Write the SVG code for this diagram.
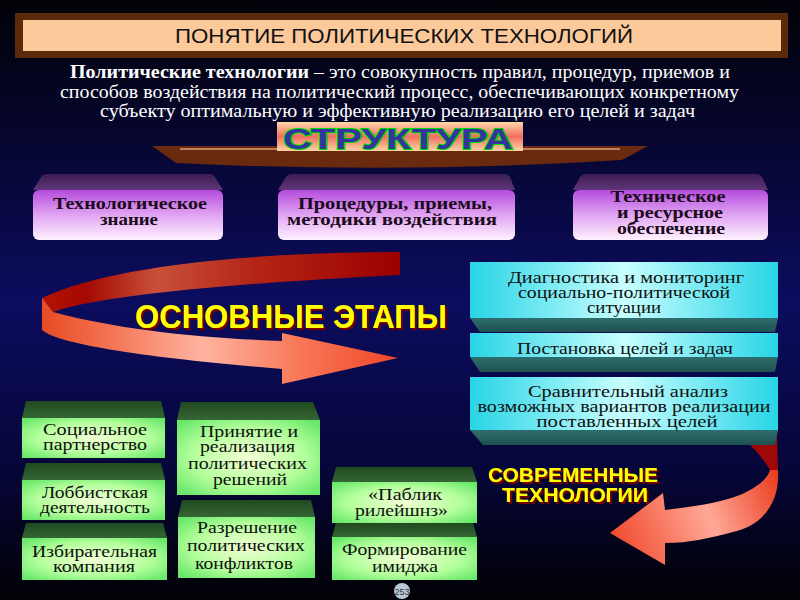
<svg xmlns="http://www.w3.org/2000/svg" width="800" height="600" viewBox="0 0 800 600">
<defs>
  <linearGradient id="bg" x1="0" y1="0" x2="0" y2="1">
    <stop offset="0" stop-color="#020208"/>
    <stop offset="0.22" stop-color="#06062e"/>
    <stop offset="0.5" stop-color="#0c0c5e"/>
    <stop offset="0.78" stop-color="#06063a"/>
    <stop offset="1" stop-color="#010104"/>
  </linearGradient>
  <linearGradient id="strG" x1="0" y1="0" x2="0" y2="1">
    <stop offset="0" stop-color="#ffd8a8"/>
    <stop offset="0.5" stop-color="#f07060"/>
    <stop offset="1" stop-color="#ffd4a4"/>
  </linearGradient>
  <linearGradient id="pTop" x1="0" y1="0" x2="0" y2="1">
    <stop offset="0" stop-color="#3c1e50"/>
    <stop offset="1" stop-color="#60357a"/>
  </linearGradient>
  <linearGradient id="pFront" x1="0" y1="0" x2="0" y2="1">
    <stop offset="0" stop-color="#b44cdc"/>
    <stop offset="0.5" stop-color="#e0a4f2"/>
    <stop offset="1" stop-color="#fff2ff"/>
  </linearGradient>
  <linearGradient id="cFront" x1="0" y1="0" x2="1" y2="0">
    <stop offset="0" stop-color="#28d4e6"/>
    <stop offset="0.5" stop-color="#c8ffff"/>
    <stop offset="1" stop-color="#28d4e6"/>
  </linearGradient>
  <linearGradient id="cBot" x1="0" y1="0" x2="0" y2="1">
    <stop offset="0" stop-color="#2f6e6e"/>
    <stop offset="1" stop-color="#1f5050"/>
  </linearGradient>
  <radialGradient id="gFront" cx="0.5" cy="0.5" r="0.65">
    <stop offset="0" stop-color="#f2ffd4"/>
    <stop offset="0.6" stop-color="#b4ff9c"/>
    <stop offset="1" stop-color="#6ae86a"/>
  </radialGradient>
  <linearGradient id="gTop" x1="0" y1="0" x2="0" y2="1">
    <stop offset="0" stop-color="#1f4a1f"/>
    <stop offset="1" stop-color="#356535"/>
  </linearGradient>
  <linearGradient id="back1" gradientUnits="userSpaceOnUse" x1="400" y1="0" x2="42" y2="0">
    <stop offset="0" stop-color="#9a0000"/>
    <stop offset="0.4" stop-color="#b42414"/>
    <stop offset="0.68" stop-color="#c85038"/>
    <stop offset="0.88" stop-color="#a40800"/>
    <stop offset="1" stop-color="#b41406"/>
  </linearGradient>
  <linearGradient id="front1" gradientUnits="userSpaceOnUse" x1="40" y1="0" x2="400" y2="0">
    <stop offset="0" stop-color="#e84a22"/>
    <stop offset="0.18" stop-color="#f27050"/>
    <stop offset="0.45" stop-color="#ffb4a0"/>
    <stop offset="0.72" stop-color="#f87858"/>
    <stop offset="1" stop-color="#ee4626"/>
  </linearGradient>
  <linearGradient id="front2" gradientUnits="userSpaceOnUse" x1="780" y1="470" x2="610" y2="540">
    <stop offset="0" stop-color="#e83818"/>
    <stop offset="0.45" stop-color="#ffa898"/>
    <stop offset="1" stop-color="#f04828"/>
  </linearGradient>
  <filter id="sh" x="-5%" y="-10%" width="115%" height="140%">
    <feOffset in="SourceAlpha" dx="2" dy="2" result="o"/>
    <feFlood flood-color="#7a0000"/>
    <feComposite in2="o" operator="in" result="s"/>
    <feMerge><feMergeNode in="s"/><feMergeNode in="SourceGraphic"/></feMerge>
  </filter>
  <filter id="sh2" x="-5%" y="-10%" width="115%" height="140%">
    <feOffset in="SourceAlpha" dx="1.5" dy="1.5" result="o"/>
    <feFlood flood-color="#7a0000"/>
    <feComposite in2="o" operator="in" result="s"/>
    <feMerge><feMergeNode in="s"/><feMergeNode in="SourceGraphic"/></feMerge>
  </filter>
  <style>
    .ptop{fill:url(#pTop)}
    .pfront{fill:url(#pFront)}
    .pt{font-family:"Liberation Serif",serif;font-weight:bold;font-size:17px;fill:#1a0a1a;text-anchor:middle}
    .cfront{fill:url(#cFront)}
    .cbot{fill:url(#cBot)}
    .ct{font-family:"Liberation Serif",serif;font-size:16px;fill:#101010;text-anchor:middle}
    .gtop{fill:url(#gTop)}
    .gfront{fill:url(#gFront)}
    .gt{font-family:"Liberation Serif",serif;font-size:16.5px;fill:#101010;text-anchor:middle}
    .para{font-family:"Liberation Serif",serif;font-size:18px;fill:#ffffff}
    .yel{font-family:"Liberation Sans",sans-serif;font-weight:bold;fill:#ffff00}
  </style>
</defs>

<rect x="0" y="0" width="800" height="600" fill="url(#bg)"/>

<g id="title">
  <rect x="15" y="13" width="773" height="45" fill="#5a2a0a"/>
  <rect x="23" y="20" width="758" height="31" fill="#fcc99b"/>
  <text x="404" y="43" font-family="Liberation Sans, sans-serif" font-size="21" fill="#111" text-anchor="middle" textLength="458" lengthAdjust="spacingAndGlyphs">ПОНЯТИЕ ПОЛИТИЧЕСКИХ ТЕХНОЛОГИЙ</text>
</g>

<g id="definition">
  <text class="para" x="70" y="78" font-weight="bold" textLength="239" lengthAdjust="spacingAndGlyphs">Политические технологии</text>
  <text class="para" x="314" y="78" textLength="416" lengthAdjust="spacingAndGlyphs">– это совокупность правил, процедур, приемов и</text>
  <text class="para" x="60" y="98" textLength="679" lengthAdjust="spacingAndGlyphs">способов воздействия на политический процесс, обеспечивающих конкретному</text>
  <text class="para" x="100" y="117" textLength="595" lengthAdjust="spacingAndGlyphs">субъекту оптимальную и эффективную реализацию его целей и задач</text>
</g>

<g id="structure">
  <path d="M152,146 L648,146 L622,160 Q400,174 176,163 Z" fill="#6a2a10"/>
  <path d="M180,149 L620,149" stroke="#d8a070" stroke-width="1.5"/>
  <rect x="277" y="122" width="246" height="29" fill="url(#strG)"/>
  <text x="398" y="149" font-family="Liberation Sans, sans-serif" font-weight="bold" font-size="29" fill="#34349e" stroke="#00dd00" stroke-width="2" paint-order="stroke" text-anchor="middle" textLength="230" lengthAdjust="spacingAndGlyphs">СТРУКТУРА</text>
</g>

<g id="n-tech-knowledge">
  <path class="ptop" d="M33,190 L41,177 Q43,174 47,174 L209,174 Q213,174 215,177 L223,190 Z"/>
  <rect class="pfront" x="33" y="190" width="190" height="50" rx="6"/>
  <text class="pt"><tspan x="130" y="209" textLength="154" lengthAdjust="spacingAndGlyphs">Технологическое</tspan><tspan x="129" y="225" textLength="58" lengthAdjust="spacingAndGlyphs">знание</tspan></text>
</g>
<g id="n-procedures">
  <path class="ptop" d="M278,190 L286,177 Q288,174 292,174 L504,174 Q508,174 510,177 L515,190 Z"/>
  <rect class="pfront" x="278" y="190" width="237" height="50" rx="6"/>
  <text class="pt"><tspan x="395" y="209" textLength="194" lengthAdjust="spacingAndGlyphs">Процедуры, приемы,</tspan><tspan x="392" y="225" textLength="210" lengthAdjust="spacingAndGlyphs">методики воздействия</tspan></text>
</g>
<g id="n-technical">
  <path class="ptop" d="M573,190 L580,177 Q582,174 586,174 L756,174 Q760,174 762,177 L768,190 Z"/>
  <rect class="pfront" x="573" y="190" width="195" height="50" rx="6"/>
  <text class="pt"><tspan x="668" y="202" textLength="115" lengthAdjust="spacingAndGlyphs">Техническое</tspan><tspan x="670" y="218" textLength="106" lengthAdjust="spacingAndGlyphs">и ресурсное</tspan><tspan x="671" y="234" textLength="108" lengthAdjust="spacingAndGlyphs">обеспечение</tspan></text>
</g>

<g id="connectors">
  <path d="M400,252 C260,252 110,265 42,298 L53,312 C100,296 220,284 400,275 Z" fill="url(#back1)"/>
  <path d="M42,298 L42,330 C60,345 150,358 282,369 L282,384 L398,358 L282,333 L282,341 C200,338 120,330 53,312 Z" fill="url(#front1)"/>
  <path d="M745,440 L777,436 L778,470 L770,470 C764,460 756,450 745,440 Z" fill="#a00808"/>
  <path d="M770,470 L778,470 C780,500 765,525 733,532 C710,538 690,543 665,543 L665,565 L610,533 L663,493 L665,510 C690,507 720,503 740,495 C758,487 768,478 770,470 Z" fill="url(#front2)"/>
</g>

<g id="label-stages">
  <text class="yel" x="135" y="328" font-size="34" filter="url(#sh)" textLength="312" lengthAdjust="spacingAndGlyphs">ОСНОВНЫЕ ЭТАПЫ</text>
</g>

<g id="n-diagnostics">
  <rect class="cfront" x="470" y="262" width="308" height="56"/>
  <path class="cbot" d="M470,318 L778,318 L775,332 L480,332 Z"/>
  <text class="ct"><tspan x="626" y="283" textLength="236" lengthAdjust="spacingAndGlyphs">Диагностика и мониторинг</tspan><tspan x="624" y="298" textLength="212" lengthAdjust="spacingAndGlyphs">социально-политической</tspan><tspan x="624" y="313" textLength="74" lengthAdjust="spacingAndGlyphs">ситуации</tspan></text>
</g>
<g id="n-goals">
  <rect class="cfront" x="470" y="333" width="308" height="24"/>
  <path class="cbot" d="M470,357 L778,357 L775,372 L480,372 Z"/>
  <text class="ct" x="625" y="354" textLength="216" lengthAdjust="spacingAndGlyphs">Постановка целей и задач</text>
</g>
<g id="n-analysis">
  <rect class="cfront" x="470" y="377" width="308" height="53"/>
  <path class="cbot" d="M470,430 L778,430 L775,445 L483,445 Z"/>
  <text class="ct"><tspan x="628" y="397" textLength="200" lengthAdjust="spacingAndGlyphs">Сравнительный анализ</tspan><tspan x="624" y="412" textLength="293" lengthAdjust="spacingAndGlyphs">возможных вариантов реализации</tspan><tspan x="627" y="427" textLength="181" lengthAdjust="spacingAndGlyphs">поставленных целей</tspan></text>
</g>

<g id="label-modern">
  <text class="yel" font-size="21" filter="url(#sh2)"><tspan x="488" y="482" textLength="170" lengthAdjust="spacingAndGlyphs">СОВРЕМЕННЫЕ</tspan><tspan x="502" y="502" textLength="146" lengthAdjust="spacingAndGlyphs">ТЕХНОЛОГИИ</tspan></text>
</g>

<g id="n-social-partnership">
  <path class="gtop" d="M26,401 L161,401 L165,418 L22,418 Z"/>
  <rect class="gfront" x="22" y="418" width="143" height="40"/>
  <text class="gt"><tspan x="95" y="435" textLength="104" lengthAdjust="spacingAndGlyphs">Социальное</tspan><tspan x="95" y="450" textLength="104" lengthAdjust="spacingAndGlyphs">партнерство</tspan></text>
</g>
<g id="n-lobbying">
  <path class="gtop" d="M26,463 L161,463 L165,480 L22,480 Z"/>
  <rect class="gfront" x="22" y="480" width="143" height="40"/>
  <text class="gt"><tspan x="95" y="498" textLength="106" lengthAdjust="spacingAndGlyphs">Лоббистская</tspan><tspan x="95" y="513" textLength="110" lengthAdjust="spacingAndGlyphs">деятельность</tspan></text>
</g>
<g id="n-election">
  <path class="gtop" d="M26,523 L163,523 L167,538 L22,538 Z"/>
  <rect class="gfront" x="22" y="538" width="145" height="42"/>
  <text class="gt"><tspan x="94.5" y="557" textLength="125" lengthAdjust="spacingAndGlyphs">Избирательная</tspan><tspan x="94" y="572" textLength="82" lengthAdjust="spacingAndGlyphs">компания</tspan></text>
</g>
<g id="n-decisions">
  <path class="gtop" d="M181,402 L313,402 L320,420 L177,420 Z"/>
  <rect class="gfront" x="177" y="420" width="143" height="75"/>
  <text class="gt"><tspan x="249" y="437" textLength="98" lengthAdjust="spacingAndGlyphs">Принятие и</tspan><tspan x="247.5" y="452" textLength="95" lengthAdjust="spacingAndGlyphs">реализация</tspan><tspan x="247.5" y="469" textLength="119" lengthAdjust="spacingAndGlyphs">политических</tspan><tspan x="250" y="485" textLength="74" lengthAdjust="spacingAndGlyphs">решений</tspan></text>
</g>
<g id="n-conflicts">
  <path class="gtop" d="M182,500 L311,500 L315,517 L178,517 Z"/>
  <rect class="gfront" x="178" y="517" width="137" height="61"/>
  <text class="gt"><tspan x="247" y="533" textLength="100" lengthAdjust="spacingAndGlyphs">Разрешение</tspan><tspan x="246" y="551" textLength="118" lengthAdjust="spacingAndGlyphs">политических</tspan><tspan x="244" y="569" textLength="98" lengthAdjust="spacingAndGlyphs">конфликтов</tspan></text>
</g>
<g id="n-pr">
  <path class="gtop" d="M336,467 L472,467 L477,482 L332,482 Z"/>
  <rect class="gfront" x="332" y="482" width="145" height="41"/>
  <text class="gt"><tspan x="405" y="500" textLength="74" lengthAdjust="spacingAndGlyphs">«Паблик</tspan><tspan x="401.5" y="516" textLength="93" lengthAdjust="spacingAndGlyphs">рилейшнз»</tspan></text>
</g>
<g id="n-image">
  <path class="gtop" d="M336,523 L473,523 L477,537 L332,537 Z"/>
  <rect class="gfront" x="332" y="537" width="145" height="43"/>
  <text class="gt"><tspan x="404.5" y="555" textLength="125" lengthAdjust="spacingAndGlyphs">Формирование</tspan><tspan x="405" y="572" textLength="66" lengthAdjust="spacingAndGlyphs">имиджа</tspan></text>
</g>

<g id="page-number">
  <circle cx="402" cy="591" r="8" fill="#b8c8d8"/>
  <text x="402" y="594.5" font-family="Liberation Sans, sans-serif" font-size="9" fill="#333" text-anchor="middle">253</text>
</g>
</svg>
